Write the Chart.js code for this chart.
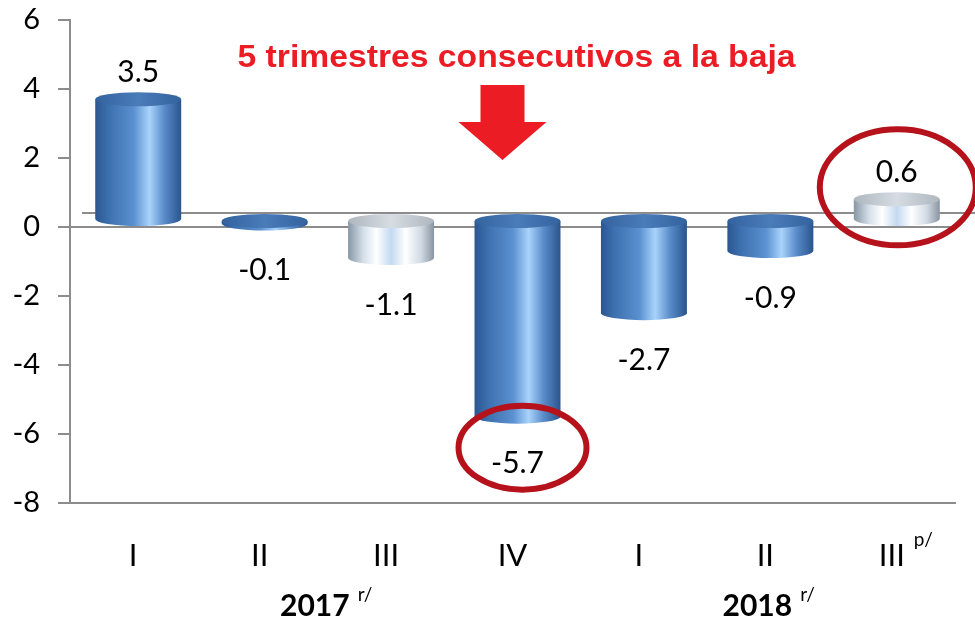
<!DOCTYPE html>
<html>
<head>
<meta charset="utf-8">
<script src="https://cdn.jsdelivr.net/npm/chart.js@4/dist/chart.umd.min.js"></script>
<style>
  html, body { margin: 0; padding: 0; background: #fff; }
  #contenedor { width: 975px; height: 623px; }
</style>
</head>
<body>
<div id="contenedor"><canvas id="grafica"></canvas></div>
<script>
// --- DATOS ---
const trimestres = ['I', 'II', 'III', 'IV', 'I', 'II', 'III'];
const variacion = [3.5, -0.1, -1.1, -5.7, -2.7, -0.9, 0.6];
const tonoBarra = ['azul', 'azul', 'blanco', 'azul', 'azul', 'azul', 'blanco'];
const anios = ['2017', '2018'];
const notaAnio = ['r/', 'r/'];
const grupoAnio = [[0, 3], [4, 6]];          // trimestres que abarca cada año
const notaTrimestre = ['', '', '', '', '', '', 'p/'];
const marcados = [3, 6];                      // valores encerrados en círculo
const titulo = '5 trimestres consecutivos a la baja';
const ejeY = { min: -8, max: 6, paso: 2 };

// --- ESTILO ---
const fuente = 'Lato, "Noto Sans", sans-serif';
const gris = '#8c8c8c';
const desfase3d = 7;   // el "piso" 3D queda un poco por encima del cero

const degradados = {
    azul: [[0, '#2b5690'], [0.15, '#3c6fae'], [0.45, '#5b91d0'], [0.63, '#a9d3fb'], [0.8, '#5a8dca'], [1, '#2a548c']],
    blanco: [[0, '#8896a4'], [0.18, '#d5e0ea'], [0.33, '#ffffff'], [0.5, '#c3d9f0'], [0.67, '#ffffff'], [0.85, '#d0dae4'], [1, '#8894a0']]
};
const tapas = {
    azul: [[0, '#34639e'], [0.5, '#4a7cba'], [1, '#34639e']],
    blanco: [[0, '#aeb6be'], [0.5, '#d6dce2'], [1, '#aeb6be']]
};

function degradadoH(ctx, x0, x1, paradas) {
    const g = ctx.createLinearGradient(x0, 0, x1, 0);
    paradas.forEach(p => g.addColorStop(p[0], p[1]));
    return g;
}

function dibujarCilindro(ctx, cx, ancho, arriba, abajo, tono) {
    const rx = ancho / 2, ry = 7;
    ctx.save();
    ctx.fillStyle = degradadoH(ctx, cx - rx, cx + rx, degradados[tono]);
    ctx.beginPath();
    ctx.moveTo(cx - rx, arriba);
    ctx.lineTo(cx - rx, abajo);
    ctx.ellipse(cx, abajo, rx, ry, 0, Math.PI, 0, true);
    ctx.lineTo(cx + rx, arriba);
    ctx.closePath();
    ctx.fill();
    ctx.fillStyle = degradadoH(ctx, cx - rx, cx + rx, tapas[tono]);
    ctx.beginPath();
    ctx.ellipse(cx, arriba, rx, ry, 0, 0, Math.PI * 2);
    ctx.fill();
    ctx.restore();
}

// --- PLUGIN: piso, cilindros, etiquetas y anotaciones ---
const pluginCilindros = {
    id: 'cilindros',
    beforeDatasetsDraw(chart) {
        const ctx = chart.ctx, area = chart.chartArea;
        const y0 = chart.scales.y.getPixelForValue(0);
        ctx.save();
        ctx.strokeStyle = gris;
        ctx.lineWidth = 2;
        ctx.beginPath();
        ctx.moveTo(area.left + 12, y0 - 14);
        ctx.lineTo(chart.width, y0 - 14);
        ctx.stroke();
        ctx.restore();
    },
    afterDatasetsDraw(chart) {
        const ctx = chart.ctx, area = chart.chartArea;
        const escalaX = chart.scales.x;
        const meta = chart.getDatasetMeta(0);

        meta.data.forEach((barra, i) => {
            const p = barra.getProps(['x', 'y', 'base', 'width'], true);
            const arriba = Math.min(p.y, p.base) - desfase3d;
            const abajo = Math.max(p.y, p.base) - desfase3d;
            dibujarCilindro(ctx, p.x + 5, p.width, arriba, abajo, tonoBarra[i]);
        });

        // etiquetas de valor
        ctx.save();
        ctx.fillStyle = '#000';
        ctx.font = '30px ' + fuente;
        ctx.textAlign = 'center';
        ctx.textBaseline = 'middle';
        meta.data.forEach((barra, i) => {
            const v = variacion[i];
            const y = v >= 0 ? barra.y - 34 : barra.y + 40;
            ctx.fillText(v.toFixed(1), barra.x + 5, y);
        });
        ctx.restore();

        // círculos rojos
        ctx.save();
        ctx.strokeStyle = '#b5121b';
        ctx.lineWidth = 6;
        marcados.forEach(i => {
            const barra = meta.data[i];
            const v = variacion[i];
            let cx, cy, rx, ry;
            if (v < 0) { cx = barra.x + 10; cy = barra.y + 24; rx = 64; ry = 42; }
            else { cx = barra.x + 6; cy = barra.y - 19; rx = 78; ry = 58; }
            ctx.beginPath();
            ctx.ellipse(cx, cy, rx, ry, 0, 0, Math.PI * 2);
            ctx.stroke();
        });
        ctx.restore();

        // título (algo estirado a lo ancho, como en el original) y flecha
        ctx.save();
        ctx.fillStyle = '#ec1c24';
        ctx.font = 'bold 31px "Liberation Sans", Arial, sans-serif';
        ctx.textAlign = 'center';
        ctx.textBaseline = 'middle';
        const tx = escalaX.getPixelForValue(3) + 4;
        const anchoTitulo = ctx.measureText(titulo).width;
        const estira = 558 / anchoTitulo;
        ctx.translate(tx, area.top + 38);
        ctx.scale(estira, 1);
        ctx.fillText(titulo, 0, 0);
        ctx.restore();

        ctx.save();
        ctx.fillStyle = '#ec1c24';
        const fx = escalaX.getPixelForValue(3) - 10;
        const fy = area.top + 65;
        ctx.beginPath();
        ctx.moveTo(fx - 22, fy);
        ctx.lineTo(fx + 22, fy);
        ctx.lineTo(fx + 22, fy + 37);
        ctx.lineTo(fx + 44, fy + 37);
        ctx.lineTo(fx, fy + 75);
        ctx.lineTo(fx - 44, fy + 37);
        ctx.lineTo(fx - 22, fy + 37);
        ctx.closePath();
        ctx.fill();
        ctx.restore();

        // notas de los trimestres y años
        ctx.save();
        ctx.fillStyle = '#000';
        ctx.textBaseline = 'middle';
        ctx.textAlign = 'left';
        ctx.font = '19px ' + fuente;
        notaTrimestre.forEach((nota, i) => {
            if (!nota) return;
            ctx.fillText(nota, escalaX.getPixelForValue(i) + 22, area.bottom + 37);
        });
        anios.forEach((anio, k) => {
            const [a, b] = grupoAnio[k];
            const cx = (escalaX.getPixelForValue(a) + escalaX.getPixelForValue(b)) / 2;
            ctx.font = 'bold 30px ' + fuente;
            const ancho = ctx.measureText(anio).width;
            ctx.textAlign = 'center';
            ctx.fillText(anio, cx - 8, area.bottom + 103);
            ctx.textAlign = 'left';
            ctx.font = '19px ' + fuente;
            ctx.fillText(notaAnio[k], cx - 8 + ancho / 2 + 8, area.bottom + 92);
        });
        ctx.restore();
    }
};

// --- GRÁFICA ---
const grafica = new Chart(document.getElementById('grafica'), {
    type: 'bar',
    data: {
        labels: trimestres,
        datasets: [{
            data: variacion,
            backgroundColor: 'rgba(0,0,0,0)',
            borderWidth: 0,
            barPercentage: 0.68,
            categoryPercentage: 1
        }]
    },
    options: {
        responsive: true,
        maintainAspectRatio: false,
        animation: false,
        layout: { padding: { top: 20, right: 20, left: 0, bottom: 0 } },
        plugins: { legend: { display: false }, tooltip: { enabled: false } },
        scales: {
            x: {
                grid: { display: false, drawTicks: false },
                border: { display: true, color: gris, width: 2 },
                ticks: { color: '#000', font: { family: fuente, size: 31 }, padding: 34 },
                afterFit: s => { s.height = 120; }
            },
            y: {
                min: ejeY.min,
                max: ejeY.max,
                ticks: { stepSize: ejeY.paso, color: '#000', font: { family: fuente, size: 29 }, padding: 18 },
                grid: {
                    color: c => c.tick && c.tick.value === 0 ? gris : 'rgba(0,0,0,0)',
                    lineWidth: 2,
                    tickColor: gris,
                    tickLength: 12,
                    drawTicks: true
                },
                border: { display: true, color: gris, width: 2 },
                afterFit: s => { s.width = 70; s.paddingTop = 0; s.paddingBottom = 0; }
            }
        }
    },
    plugins: [pluginCilindros]
});
</script>
</body>
</html>
